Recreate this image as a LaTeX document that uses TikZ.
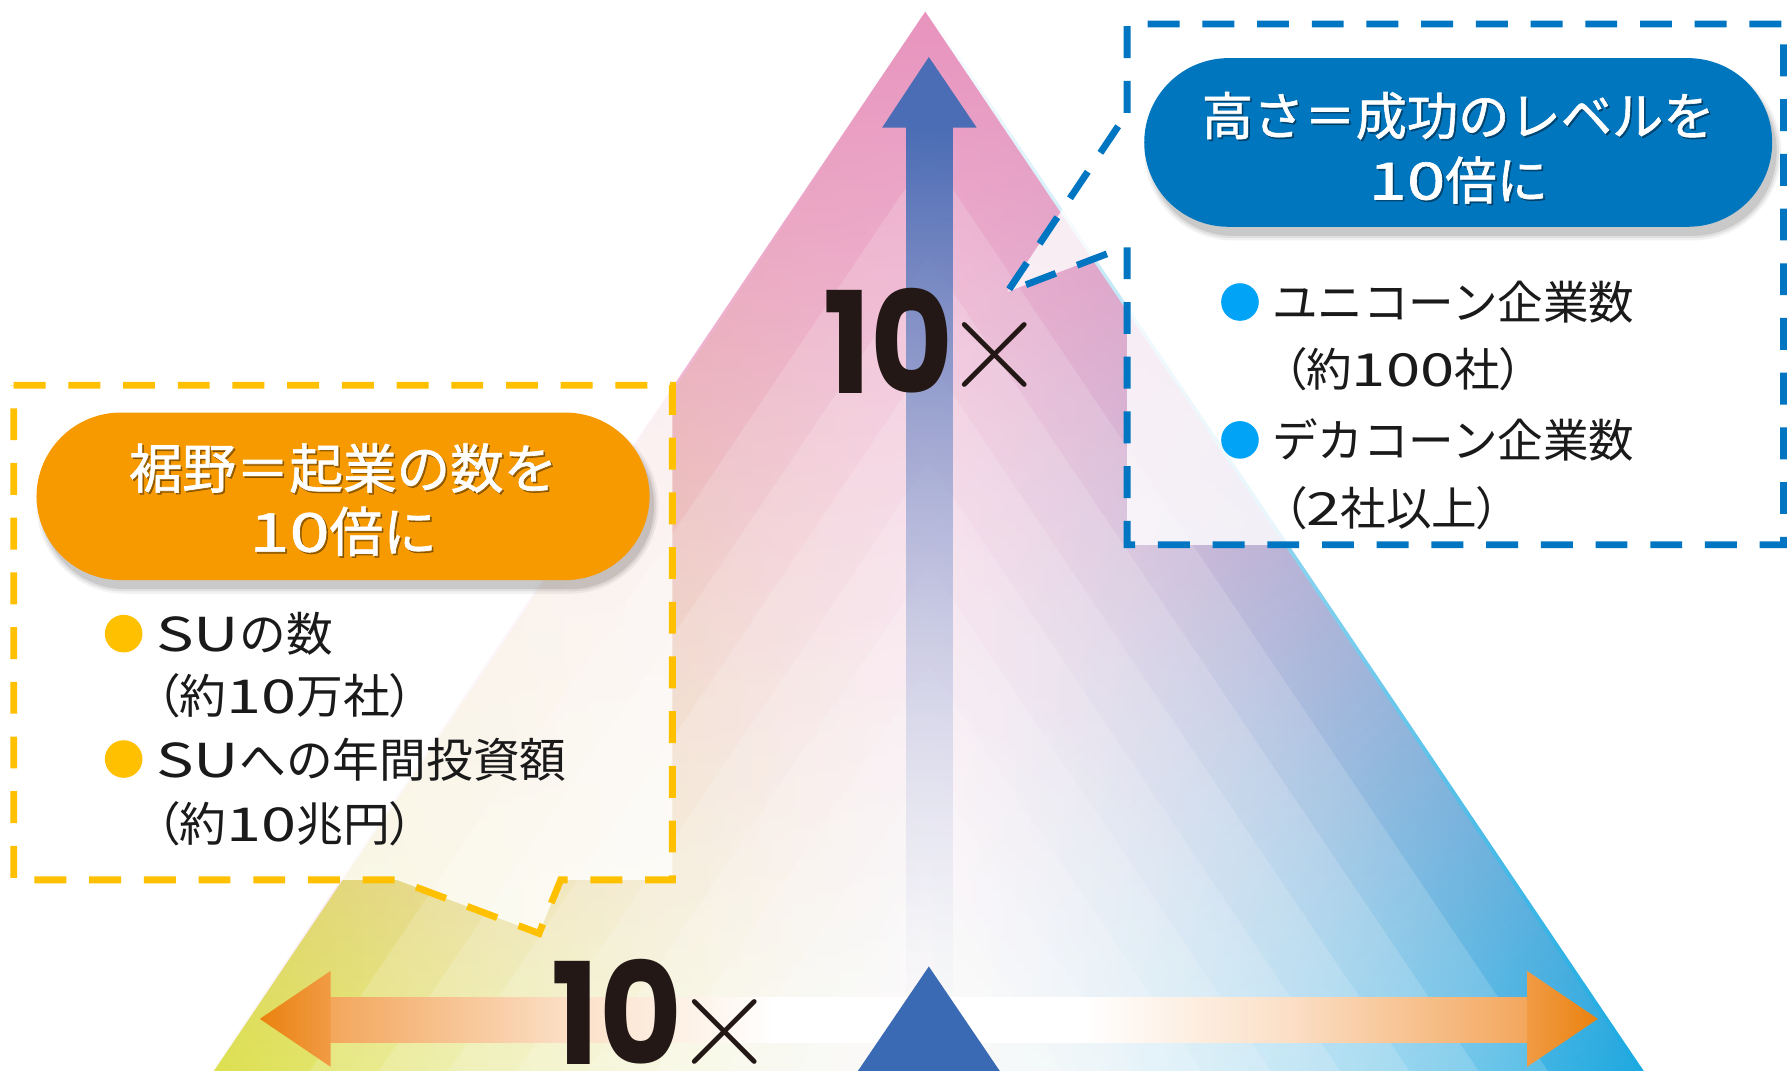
\documentclass[tikz,border=0pt]{standalone}
\usepackage{fontspec}
\usetikzlibrary{fadings}
\newfontfamily\jp{Noto Sans CJK JP}
\newfontfamily\jpb{Noto Sans CJK JP}[FakeBold=1.2]
\newfontfamily\jpbw{Noto Sans CJK JP}[FakeBold=1.2,FakeStretch=1.35]
\newfontfamily\jpp{Noto Sans CJK JP}[RawFeature=+palt]
\newfontfamily\jpw{Noto Sans CJK JP}[FakeStretch=1.35]
\newfontfamily\numfont{Poppins}[FakeStretch=0.9]
\definecolor{triY}{HTML}{DCE24A}
\definecolor{triB}{HTML}{14A7E0}
\definecolor{pinkA}{HTML}{E894BE}
\definecolor{arrB}{HTML}{4A6DB5}
\definecolor{shaftL}{HTML}{C9D1EC}
\definecolor{botT}{HTML}{3A6AB3}
\definecolor{ornD}{HTML}{EA820E}
\definecolor{ornH}{HTML}{F19B45}
\definecolor{ornS}{HTML}{F3A65B}
\definecolor{peachC}{HTML}{FBDFC6}
\definecolor{dashB}{HTML}{0075C1}
\definecolor{dashY}{HTML}{FFC000}
\definecolor{pillB}{HTML}{0076BE}
\definecolor{pillO}{HTML}{F79A00}
\definecolor{bulB}{HTML}{00A3F5}
\definecolor{bulY}{HTML}{FFC000}
\definecolor{txt}{HTML}{1A1A1A}
\definecolor{numc}{HTML}{231815}
\tikzfading[name=fadepink, top color=transparent!0, middle color=transparent!50, bottom color=transparent!100]
\tikzfading[name=fadeshaft, top color=transparent!0, middle color=transparent!20, bottom color=transparent!100]
\pgfdeclarehorizontalshading{hshaftL}{100bp}{color(0bp)=(ornS); color(25bp)=(ornS); color(45bp)=(peachC); color(62bp)=(white); color(100bp)=(white)}
\pgfdeclarehorizontalshading{hshaftR}{100bp}{color(0bp)=(white); color(38bp)=(white); color(55bp)=(peachC); color(75bp)=(ornS); color(100bp)=(ornS)}
\tikzset{
  ttl/.style={anchor=base, inner sep=0, text=white, font=\jpb\fontsize{45}{54}\selectfont},
  ttlo/.style={ttl, font=\jpb\fontsize{47}{56}\selectfont},
  bodyB/.style={anchor=base west, inner sep=0, text=txt, font=\jp\fontsize{40}{48}\selectfont},
  bodyY/.style={anchor=base west, inner sep=0, text=txt, font=\jp\fontsize{41}{49}\selectfont},
  tenx/.style={anchor=base west, inner sep=0, text=numc, font=\numfont\bfseries\fontsize{124}{124}\selectfont},
  timesx/.style={anchor=center, inner sep=0, text=numc, font=\rmfamily\fontsize{125}{125}\selectfont},
  dashbox/.style={fill=white, fill opacity=0.8, line width=6, dash pattern=on 28 off 20},
}
\begin{document}
\begin{tikzpicture}[x=1pt,y=-1pt]
\useasboundingbox (0,0) rectangle (1568,939);
\clip (0,0) rectangle (1568,939);
\fill[white] (0,0) rectangle (1568,939);
% main triangle
\coordinate (apex) at (815,10);
\coordinate (bl) at (174,960);
\coordinate (br) at (1456,960);
\shade[left color=triY, right color=triB, middle color=white] (apex) -- (bl) -- (br) -- cycle;
\fill[pinkA, path fading=fadepink] (apex) -- (bl) -- (br) -- cycle;
\foreach \a in {135,225,315,405,495,585,675,765,855}
  \fill[white, opacity=0.16] (815,\a) -- ({815-0.6749*(960-\a)},960) -- ({815+0.6749*(960-\a)},960) -- cycle;
% vertical arrow
\shade[top color=arrB, bottom color=shaftL, path fading=fadeshaft] (795,110) rectangle (836,900);
\fill[arrB] (774,112) -- (815,50) -- (857,112) -- cycle;
% horizontal double arrow
\shade[shading=hshaftL] (288,875) rectangle (815,915);
\shade[shading=hshaftR] (815,875) rectangle (1342,915);
\shade[left color=ornD, right color=ornH] (228,894) -- (290,852) -- (290,936) -- cycle;
\shade[left color=ornH, right color=ornD] (1340,852) -- (1402,894) -- (1340,936) -- cycle;
% bottom blue triangle
\fill[botT] (815,848) -- (739,960) -- (891,960) -- cycle;
% 10x labels
\node[tenx] (tenA) at (722,345) {10};
\node[timesx] (xA) at (873,312) {×};
\node[tenx] (tenB) at (484,934) {10};
\node[timesx] (xB) at (636,906) {×};
% callout boxes
\path[dashbox, draw=dashY] (12,338) -- (590,338) -- (590,772) -- (492,772) -- (473,819) -- (348,772) -- (12,772) -- cycle;
\path[dashbox, draw=dashB] (989,99) -- (989,21) -- (1565,21) -- (1565,478) -- (989,478) -- (989,216) -- (884,256) -- cycle;
% blue pill
\fill[black, opacity=0.10, rounded corners=74] (1008,59) rectangle (1559,207);
\fill[black, opacity=0.07, rounded corners=76] (1006,57) rectangle (1561,209);
\fill[black, opacity=0.05, rounded corners=78] (1004,55) rectangle (1563,211);
\fill[pillB, rounded corners=74] (1004,51) rectangle (1555,199);
\node[ttl, text=black, opacity=0.35] at (1281,120) {高さ＝成功のレベルを};
\node[ttl] (bt1) at (1279.5,118.5) {高さ＝成功のレベルを};
\node[ttl, text=black, opacity=0.35] at (1281,176.5) {{\jpbw 10}倍に};
\node[ttl] (bt2) at (1279.5,175) {{\jpbw 10}倍に};
% orange pill
\fill[black, opacity=0.10, rounded corners=74] (36,370) rectangle (574,517);
\fill[black, opacity=0.07, rounded corners=76] (34,368) rectangle (576,519);
\fill[black, opacity=0.05, rounded corners=78] (32,366) rectangle (578,521);
\fill[pillO, rounded corners=74] (32,362) rectangle (570,509);
\node[ttlo, text=black, opacity=0.35] at (302.5,430) {裾野＝起業の数を};
\node[ttlo] (ot1) at (301,428.5) {裾野＝起業の数を};
\node[ttlo, text=black, opacity=0.35] at (302.5,485.5) {{\jpbw 10}倍に};
\node[ttlo] (ot2) at (301,484) {{\jpbw 10}倍に};
% blue bullets
\fill[bulB] (1088,265) circle (16.5);
\fill[bulB] (1088,386) circle (16.5);
\node[bodyB] (b1) at (1116,280) {ユニコーン企業数};
\node[bodyB] (b2) at (1126,339) {{\jpp （約}{\jpw 100}{\jpp 社）}};
\node[bodyB] (b3) at (1116,401) {デカコーン企業数};
\node[bodyB] (b4) at (1126,461) {{\jpp （}{\jpw 2}{\jpp 社以上）}};
% yellow bullets
\fill[bulY] (108.5,556) circle (16.5);
\fill[bulY] (108.5,666) circle (16.5);
\node[bodyY] (y1) at (137,572) {{\jpw SU}の数};
\node[bodyY] (y2) at (137,626) {{\jpp （約}{\jpw 10}{\jpp 万社）}};
\node[bodyY] (y3) at (137,682) {{\jpw SU}への年間投資額};
\node[bodyY] (y4) at (137,738) {{\jpp （約}{\jpw 10}{\jpp 兆円）}};
\end{tikzpicture}
\end{document}
